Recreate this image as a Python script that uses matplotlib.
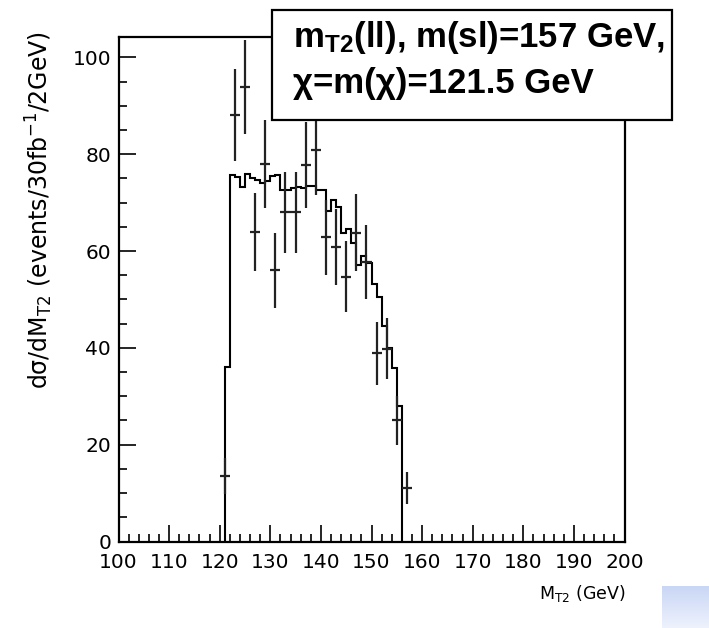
import matplotlib.pyplot as plt
import numpy as np
from matplotlib.patches import Rectangle
from matplotlib.colors import LinearSegmentedColormap

plt.rcParams['mathtext.default'] = 'regular'

# histogram, 1 GeV bins from 121 to 156
hist_edges = list(range(121, 157))
hist_vals = [36.1, 75.6, 75.3, 73.3, 76.0, 75.0, 74.7, 74.0, 74.4, 75.4,
             75.6, 72.5, 72.7, 73.0, 73.2, 73.0, 73.5, 73.5, 72.7, 72.5,
             68.3, 70.6, 69.1, 63.8, 64.5, 61.6, 57.2, 58.9, 57.6, 53.2,
             50.6, 44.6, 39.9, 35.8, 27.9]

# pseudo data points with errors
data_x = [121, 123, 125, 127, 129, 131, 133, 135, 137, 139,
          141, 143, 145, 147, 149, 151, 153, 155, 157]
data_y = [13.6, 88.0, 93.8, 63.9, 78.0, 56.0, 68.0, 68.0, 77.8, 80.8,
          62.8, 60.8, 54.7, 63.8, 57.7, 38.9, 39.8, 25.0, 11.0]
data_err = [3.7, 9.5, 9.7, 8.1, 9.1, 7.7, 8.4, 8.4, 8.9, 9.2,
            7.8, 7.8, 7.4, 8.0, 7.6, 6.5, 6.3, 5.0, 3.3]

W, H = 709, 628
fig = plt.figure(figsize=(W / 100, H / 100), dpi=100)
ax = fig.add_axes([118.5 / W, 1 - 541.5 / H, 506 / W, 504.5 / H])

ax.stairs(hist_vals, hist_edges, baseline=0, color='black', lw=1.5)
ax.errorbar(data_x, data_y, yerr=data_err, xerr=1, fmt='none',
            ecolor='#222222', elinewidth=1.6, capsize=0)

ax.set_xlim(100, 200)
ax.set_ylim(0, 104.2)
ax.set_xticks(range(100, 201, 10))
ax.set_xticks(range(100, 201, 2), minor=True)
ax.set_yticks(range(0, 101, 20))
ax.set_yticks(range(0, 101, 5), minor=True)
ax.tick_params(which='both', direction='in', top=False, right=False, width=1.2,
               labelsize=14.5)
ax.tick_params(which='major', length=12)
ax.tick_params(which='minor', length=6)
ax.tick_params(axis='x', pad=8)
ax.tick_params(axis='y', pad=5.4)
for s in ax.spines.values():
    s.set_linewidth(1.6)

# axis titles
fig.text(39 / W, 1 - 31 / H, 'dσ/dM$_{T2}$ (events/30fb$^{-1}$/2GeV)',
         rotation=90, ha='center', va='top', fontsize=17)
fig.text(625 / W, 1 - 593 / H, 'M$_{T2}$ (GeV)', ha='right', va='center',
         fontsize=12.5)

# label box
box = Rectangle((271.5 / W, 1 - 119.5 / H), (672 - 271.5) / W, 109.5 / H,
                transform=fig.transFigure, facecolor='white', edgecolor='black',
                lw=1.6, zorder=5)
fig.add_artist(box)
fig.text(293 / W, 1 - 46.7 / H, 'm$_{T2}$(ll), m(sl)=157 GeV,',
         family='Liberation Sans', weight='bold', fontsize=25,
         ha='left', va='baseline', zorder=6)
fig.text(293 / W, 1 - 93.3 / H, 'χ=m(χ)=121.5 GeV',
         family='Liberation Sans', weight='bold', fontsize=25,
         ha='left', va='baseline', zorder=6)

# small blue corner patch
corner = fig.add_axes([662 / W, 0, 47 / W, 42 / H])
grad = np.linspace(0, 1, 50).reshape(-1, 1)
corner.imshow(grad, aspect='auto',
              cmap=LinearSegmentedColormap.from_list('bl', ['#c9d6f5', '#eef2fd']))
corner.axis('off')

fig.savefig('out.png', dpi=100)
